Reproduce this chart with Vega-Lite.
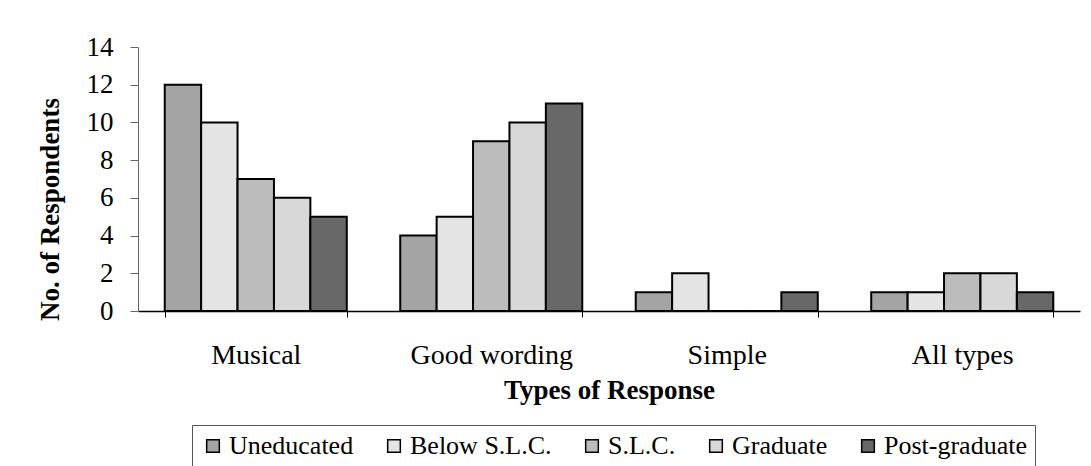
{
  "$schema": "https://vega.github.io/schema/vega-lite/v6.json",
  "autosize": "none",
  "padding": {"left": 138, "top": 47, "right": 11, "bottom": 155},
  "width": 942,
  "height": 264,
  "background": "white",
  "config": {
    "view": {"stroke": null},
    "font": "Liberation Serif",
    "axis": {"labelFont": "Liberation Serif", "titleFont": "Liberation Serif"},
    "legend": {"labelFont": "Liberation Serif"}
  },
  "data": {
    "values": [
      {"type": "Musical", "level": "Uneducated", "count": 12},
      {"type": "Musical", "level": "Below S.L.C.", "count": 10},
      {"type": "Musical", "level": "S.L.C.", "count": 7},
      {"type": "Musical", "level": "Graduate", "count": 6},
      {"type": "Musical", "level": "Post-graduate", "count": 5},
      {"type": "Good wording", "level": "Uneducated", "count": 4},
      {"type": "Good wording", "level": "Below S.L.C.", "count": 5},
      {"type": "Good wording", "level": "S.L.C.", "count": 9},
      {"type": "Good wording", "level": "Graduate", "count": 10},
      {"type": "Good wording", "level": "Post-graduate", "count": 11},
      {"type": "Simple", "level": "Uneducated", "count": 1},
      {"type": "Simple", "level": "Below S.L.C.", "count": 2},
      {"type": "Simple", "level": "S.L.C.", "count": 0},
      {"type": "Simple", "level": "Graduate", "count": 0},
      {"type": "Simple", "level": "Post-graduate", "count": 1},
      {"type": "All types", "level": "Uneducated", "count": 1},
      {"type": "All types", "level": "Below S.L.C.", "count": 1},
      {"type": "All types", "level": "S.L.C.", "count": 2},
      {"type": "All types", "level": "Graduate", "count": 2},
      {"type": "All types", "level": "Post-graduate", "count": 1}
    ]
  },
  "mark": {"type": "bar", "stroke": "black", "strokeWidth": 2},
  "encoding": {
    "x": {
      "field": "type",
      "type": "nominal",
      "sort": ["Musical", "Good wording", "Simple", "All types"],
      "scale": {"paddingInner": 0.227, "paddingOuter": 0.1135},
      "axis": {
        "title": "Types of Response",
        "labelAngle": 0,
        "tickBand": "extent",
        "labelFontSize": 28,
        "labelColor": "black",
        "labelPadding": 24,
        "tickSize": 6,
        "domainColor": "black",
        "tickColor": "black",
        "domainWidth": 1.5,
        "titleFontSize": 27,
        "titleFontWeight": "bold",
        "titleColor": "black",
        "titlePadding": 8
      }
    },
    "xOffset": {
      "field": "level",
      "type": "nominal",
      "sort": ["Uneducated", "Below S.L.C.", "S.L.C.", "Graduate", "Post-graduate"],
      "scale": {"paddingInner": 0, "paddingOuter": 0}
    },
    "y": {
      "field": "count",
      "type": "quantitative",
      "scale": {"domain": [0, 14]},
      "axis": {
        "title": "No. of Respondents",
        "values": [0, 2, 4, 6, 8, 10, 12, 14],
        "grid": false,
        "labelFontSize": 27,
        "labelColor": "black",
        "labelPadding": 17,
        "tickSize": 8,
        "domainColor": "#666",
        "tickColor": "#666",
        "titleFontSize": 27,
        "titleFontWeight": "bold",
        "titleColor": "black",
        "titlePadding": 22,
        "titleY": 162
      }
    },
    "color": {
      "field": "level",
      "type": "nominal",
      "sort": ["Uneducated", "Below S.L.C.", "S.L.C.", "Graduate", "Post-graduate"],
      "scale": {
        "domain": ["Uneducated", "Below S.L.C.", "S.L.C.", "Graduate", "Post-graduate"],
        "range": ["#a4a4a4", "#e4e4e4", "#bcbcbc", "#d8d8d8", "#686868"]
      },
      "legend": {
        "orient": "none",
        "legendX": 54,
        "legendY": 378,
        "direction": "horizontal",
        "title": null,
        "symbolType": "square",
        "symbolSize": 160,
        "symbolStrokeColor": "black",
        "symbolStrokeWidth": 1.5,
        "labelFontSize": 26,
        "labelColor": "black",
        "labelOffset": 3,
        "columnPadding": 27,
        "strokeColor": "#555",
        "padding": 8
      }
    }
  }
}
